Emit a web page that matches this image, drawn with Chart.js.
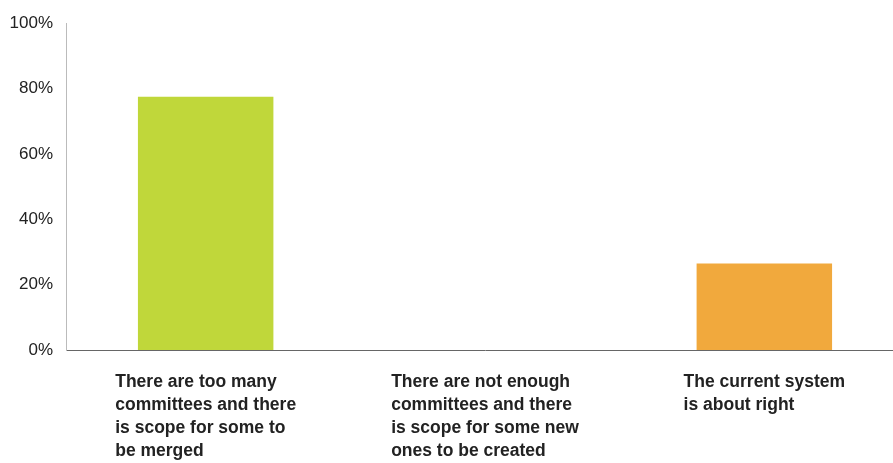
<!DOCTYPE html>
<html>
<head>
<meta charset="utf-8">
<script src="https://cdn.jsdelivr.net/npm/chart.js@4/dist/chart.umd.min.js"></script>
<style>
html,body{margin:0;padding:0;background:#fff;overflow:hidden;}
#wrap{width:893px;height:463px;position:relative;overflow:hidden;}
</style>
</head>
<body>
<div id="wrap"><canvas id="c" width="904" height="463"></canvas></div>
<script>
const categories = [
  ["There are too many", "committees and there", "is scope for some to", "be merged"],
  ["There are not enough", "committees and there", "is scope for some new", "ones to be created"],
  ["The current system", "is about right"]
];
const values = [77.5, 0, 26.5];
const barColors = ["#c0d73a", "#e8ec90", "#f1a93d"];
const yTicks = [0, 20, 40, 60, 80, 100];

const labelPlugin = {
  id: 'catLabels',
  afterDraw(chart) {
    const ctx = chart.ctx;
    const xs = chart.scales.x;
    const area = chart.chartArea;
    ctx.save();
    ctx.font = 'bold 17.5px "Liberation Sans", Arial, sans-serif';
    ctx.fillStyle = '#222';
    ctx.textAlign = 'left';
    ctx.textBaseline = 'alphabetic';
    categories.forEach((lines, i) => {
      const cx = xs.getPixelForValue(i);
      const w = Math.max(...lines.map(l => ctx.measureText(l).width));
      const left = cx - w / 2;
      lines.forEach((line, j) => {
        ctx.fillText(line, left, area.bottom + 37 + j * 23);
      });
    });
    ctx.restore();
  }
};

new Chart(document.getElementById('c'), {
  type: 'bar',
  data: {
    labels: categories.map(l => l.join(' ')),
    datasets: [{
      data: values,
      backgroundColor: barColors,
      borderWidth: 0,
      categoryPercentage: 1,
      barPercentage: 0.485
    }]
  },
  options: {
    responsive: false,
    animation: false,
    devicePixelRatio: 1,
    layout: { padding: { top: 18, right: 0, bottom: 113, left: 0 } },
    plugins: { legend: { display: false }, tooltip: { enabled: false } },
    scales: {
      x: {
        ticks: { display: false },
        grid: { display: false, drawTicks: false },
        border: { display: true, color: '#666', width: 1 },
        afterFit(s) { s.height = 0; }
      },
      y: {
        min: 0, max: 100,
        afterBuildTicks(s) { s.ticks = yTicks.map(v => ({ value: v })); },
        ticks: {
          callback: v => v + '%',
          font: { size: 17, family: '"Liberation Sans", Arial, sans-serif' },
          color: '#222',
          padding: 13
        },
        grid: { display: false, drawTicks: false },
        border: { display: true, color: '#bbb', width: 1, dash: [2, 2] },
        afterFit(s) { s.width = 66; }
      }
    }
  },
  plugins: [labelPlugin]
});
</script>
</body>
</html>
